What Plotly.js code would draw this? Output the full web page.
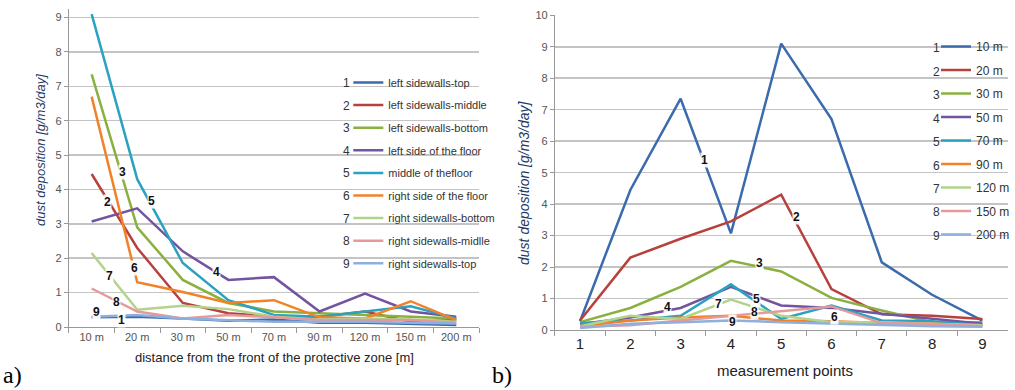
<!DOCTYPE html>
<html>
<head>
<meta charset="utf-8">
<script src="https://cdn.plot.ly/plotly-3.0.1.min.js"></script>
<style>
html,body{margin:0;padding:0;background:#fff;}
#chart{width:1015px;height:390px;}
</style>
</head>
<body>
<div id="chart"></div>
<script>
// distances (categories of chart a, series of chart b)
const distances = ["10 m","20 m","30 m","50 m","70 m","90 m","120 m","150 m","200 m"];
// measurement points (series of chart a, categories of chart b)
const points = ["1","2","3","4","5","6","7","8","9"];
const pointNames = ["left sidewalls-top","left sidewalls-middle","left sidewalls-bottom",
  "left side of the floor","middle of thefloor","right side of the floor",
  "right sidewalls-bottom","right sidewalls-midlle","right sidewalls-top"];

// dust deposition [g/m3/day] for each measurement point at each distance
const p1 = [0.28, 0.30, 0.25, 0.18, 0.22, 0.12, 0.12, 0.10, 0.06];
const p2 = [4.45, 2.30, 0.70, 0.40, 0.30, 0.30, 0.45, 0.15, 0.20];
const p3 = [7.35, 2.90, 1.37, 0.70, 0.45, 0.40, 0.35, 0.30, 0.25];
const p4 = [3.07, 3.45, 2.20, 1.37, 1.45, 0.45, 0.97, 0.45, 0.30];
const p5 = [9.10, 4.30, 1.86, 0.78, 0.35, 0.30, 0.45, 0.60, 0.25];
const p6 = [6.70, 1.30, 1.02, 0.70, 0.78, 0.28, 0.25, 0.75, 0.20];
const p7 = [2.15, 0.50, 0.62, 0.52, 0.30, 0.22, 0.25, 0.22, 0.15];
const p8 = [1.12, 0.45, 0.25, 0.35, 0.28, 0.20, 0.20, 0.20, 0.12];
const p9 = [0.30, 0.35, 0.25, 0.20, 0.15, 0.15, 0.15, 0.12, 0.10];
const pointSeries = [p1,p2,p3,p4,p5,p6,p7,p8,p9];

const colors = ["#3A6BAD","#B8413E","#8AB03F","#7354A0","#2AA2C0","#F28128","#B3D38A","#E49A9A","#8FB0DC"];

// in-plot number labels: [position index along x, value]
const labelsA = [[0.66,0.2],[0.35,3.63],[0.68,4.5],[2.73,1.6],[1.31,3.66],[0.94,1.72],[0.39,1.48],[0.55,0.73],[0.11,0.44]];
const labelsB = [[2.48,5.4],[4.3,3.59],[3.56,2.13],[1.74,0.73],[3.5,0.98],[5.05,0.41],[2.75,0.83],[3.47,0.57],[3.03,0.25]];

const traces = [];
pointSeries.forEach((vals,i)=>{
  traces.push({
    x: distances, y: vals, type:'scatter', mode:'lines',
    name: pointNames[i], legend:'legend', legendgroup:'a'+i,
    line:{color:colors[i], width:2.5}, xaxis:'x', yaxis:'y', hoverinfo:'y'
  });
});
distances.forEach((d,j)=>{
  traces.push({
    x: points, y: pointSeries.map(s=>s[j]), type:'scatter', mode:'lines',
    name: d, legend:'legend2', legendgroup:'b'+j,
    line:{color:colors[j], width:2.5}, xaxis:'x2', yaxis:'y2', hoverinfo:'y'
  });
});

const W=1015,H=390;
const px = v=>v/W, py = v=>1-v/H;
const C = {xanchor:'center', yanchor:'middle', showarrow:false};

const annotations = [];
labelsA.forEach((l,i)=>annotations.push(Object.assign({xref:'x',yref:'y',x:l[0],y:l[1],text:'<b>'+(i+1)+'</b>',
  bgcolor:'rgba(255,255,255,0.9)',borderpad:0,font:{family:'Arial, Liberation Sans',size:12,color:'#111'}},C)));
labelsB.forEach((l,i)=>annotations.push(Object.assign({xref:'x2',yref:'y2',x:l[0],y:l[1],text:'<b>'+(i+1)+'</b>',
  bgcolor:'rgba(255,255,255,0.9)',borderpad:0,font:{family:'Arial, Liberation Sans',size:12,color:'#111'}},C)));
// legend numbers
points.forEach((p,i)=>annotations.push(Object.assign({xref:'paper',yref:'paper',x:px(347),y:py(83+22.6*i),text:p,
  font:{family:'Arial, Liberation Sans',size:12,color:'#333'}},C)));
points.forEach((p,i)=>annotations.push(Object.assign({xref:'paper',yref:'paper',x:px(938),y:py(48+23.5*i),text:p,
  font:{family:'Arial, Liberation Sans',size:12,color:'#333'}},C)));
// axis titles & panel letters
annotations.push(Object.assign({xref:'paper',yref:'paper',x:px(40),y:py(150),text:'<i>dust deposition [g/m3/day]</i>',textangle:-90,
  font:{family:'Arial, Liberation Sans',size:13,color:'#1F3A66'}},C));
annotations.push(Object.assign({xref:'paper',yref:'paper',x:px(525),y:py(182),text:'<i>dust deposition [g/m3/day]</i>',textangle:-90,
  font:{family:'Arial, Liberation Sans',size:14,color:'#1F3A66'}},C));
annotations.push(Object.assign({xref:'paper',yref:'paper',x:px(275),y:py(357),text:'distance from the front of the protective zone [m]',
  font:{family:'Arial, Liberation Sans',size:13,color:'#222'}},C));
annotations.push(Object.assign({xref:'paper',yref:'paper',x:px(787),y:py(370),text:'measurement points',
  font:{family:'Arial, Liberation Sans',size:15,color:'#222'}},C));
annotations.push(Object.assign({xref:'paper',yref:'paper',x:px(13),y:py(375),text:'a)',
  font:{family:'Liberation Serif, Times New Roman, serif',size:24,color:'#000'}},C));
annotations.push(Object.assign({xref:'paper',yref:'paper',x:px(503),y:py(375),text:'b)',
  font:{family:'Liberation Serif, Times New Roman, serif',size:24,color:'#000'}},C));

const gridc = '#C4C4C4';
const axfont = {family:'Arial, Liberation Sans', size:11, color:'#555'};

const layout = {
  width:W, height:H, margin:{l:0,r:0,t:0,b:0},
  paper_bgcolor:'#fff', plot_bgcolor:'#fff', showlegend:true,
  xaxis:{domain:[px(69),px(480)], anchor:'y', type:'category', range:[-0.5,8.5], tickson:'boundaries',
    ticks:'outside', ticklen:5, tickcolor:'#999', showgrid:false, showline:true, linecolor:'#999',
    tickfont:axfont, fixedrange:true},
  yaxis:{domain:[py(327),py(9)], anchor:'x', range:[0,9.25], dtick:1, tick0:0,
    ticks:'outside', ticklen:4, tickcolor:'#999', showgrid:true, gridcolor:gridc, gridwidth:1.5,
    showline:true, linecolor:'#999', zeroline:false, tickfont:axfont, fixedrange:true},
  xaxis2:{domain:[px(556),px(1009.5)], anchor:'y2', type:'category', range:[-0.5,8.5], tickson:'boundaries',
    ticks:'outside', ticklen:5, tickcolor:'#999', showgrid:false, showline:true, linecolor:'#999',
    tickfont:{family:'Arial, Liberation Sans', size:15, color:'#222'}, fixedrange:true},
  yaxis2:{domain:[py(330),py(15.3)], anchor:'x2', range:[0,10], dtick:1, tick0:0,
    ticks:'outside', ticklen:4, tickcolor:'#999', showgrid:true, gridcolor:gridc, gridwidth:1.5,
    showline:true, linecolor:'#999', zeroline:false, tickfont:axfont, fixedrange:true},
  legend:{x:px(349), y:py(68), xanchor:'left', yanchor:'top', bgcolor:'rgba(0,0,0,0)',
    font:{family:'Arial, Liberation Sans', size:11, color:'#333'}, tracegroupgap:3.6, itemclick:false},
  legend2:{x:px(938), y:py(32), xanchor:'left', yanchor:'top', bgcolor:'rgba(0,0,0,0)',
    font:{family:'Arial, Liberation Sans', size:12, color:'#333'}, tracegroupgap:4.5, itemclick:false},
  shapes:[
    {type:'rect', xref:'paper', yref:'paper', x0:px(340), x1:px(482), y0:py(285), y1:py(30), fillcolor:'#fff', line:{width:0}, layer:'between'},
    {type:'rect', xref:'paper', yref:'paper', x0:px(933), x1:px(1012), y0:py(250), y1:py(30), fillcolor:'#fff', line:{width:0}, layer:'between'}
  ],
  annotations: annotations
};

Plotly.newPlot('chart', traces, layout, {displayModeBar:false, staticPlot:true});
</script>
</body>
</html>
